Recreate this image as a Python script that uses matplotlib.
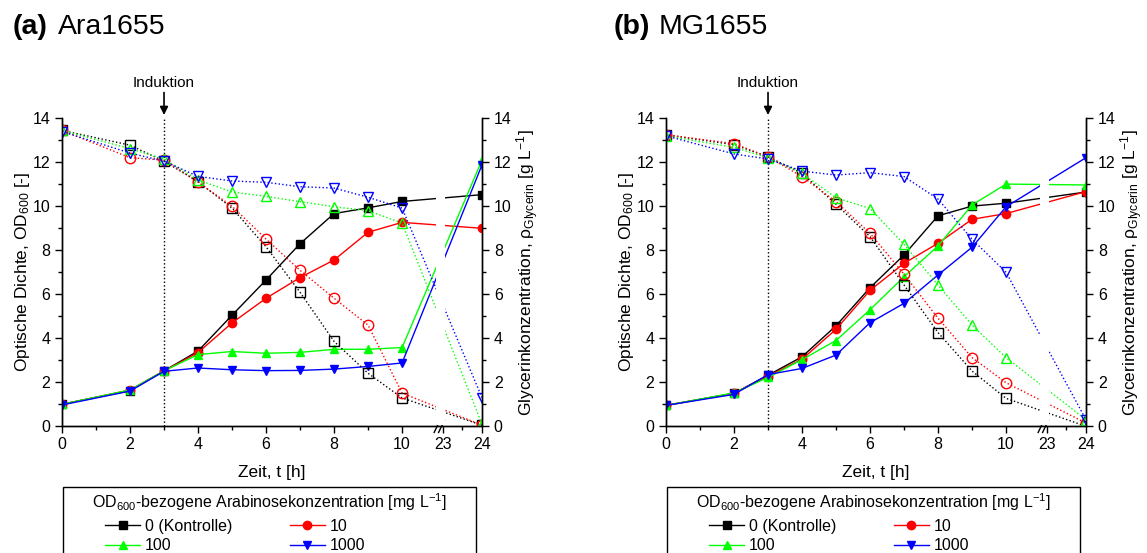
import numpy as np
import matplotlib
matplotlib.use("Agg")
import matplotlib.pyplot as plt
from matplotlib.patches import Rectangle

plt.rcParams['font.family'] = 'Liberation Sans'
plt.rcParams['mathtext.fontset'] = 'custom'
plt.rcParams['mathtext.rm'] = 'Liberation Sans'
plt.rcParams['mathtext.it'] = 'Liberation Sans:italic'
plt.rcParams['mathtext.bf'] = 'Liberation Sans:bold'

# sampling times [h]
times = [0, 2, 3, 4, 5, 6, 7, 8, 9, 10, 24]
conc_labels = ['0 (Kontrolle)', '10', '100', '1000']
colors = ['black', '#ff0000', '#00ff00', '#0000ff']
markers = ['s', 'o', '^', 'v']

# (a) Ara1655 - OD600
ara_od_0 = [1.0, 1.62, 2.52, 3.42, 5.05, 6.65, 8.3, 9.67, 9.93, 10.22, 10.53]
ara_od_10 = [1.0, 1.65, 2.52, 3.35, 4.7, 5.82, 6.76, 7.56, 8.82, 9.27, 9.0]
ara_od_100 = [1.0, 1.65, 2.52, 3.26, 3.4, 3.32, 3.36, 3.5, 3.5, 3.58, 12.1]
ara_od_1000 = [0.97, 1.6, 2.5, 2.65, 2.57, 2.53, 2.54, 2.6, 2.72, 2.88, 11.88]
# (a) Ara1655 - Glycerin
ara_gly_0 = [13.45, 12.78, 12.05, 11.12, 9.92, 8.16, 6.09, 3.86, 2.41, 1.29, 0.05]
ara_gly_10 = [13.45, 12.21, 12.1, 11.1, 10.0, 8.51, 7.09, 5.82, 4.6, 1.51, 0.05]
ara_gly_100 = [13.45, 12.62, 12.15, 11.2, 10.65, 10.45, 10.21, 9.98, 9.8, 9.24, 0.1]
ara_gly_1000 = [13.4, 12.42, 12.05, 11.36, 11.15, 11.09, 10.89, 10.83, 10.41, 9.92, 1.3]

# (b) MG1655 - OD600
mg_od_0 = [0.95, 1.5, 2.32, 3.16, 4.57, 6.3, 7.79, 9.57, 10.01, 10.14, 10.65]
mg_od_10 = [0.95, 1.5, 2.28, 3.05, 4.41, 6.18, 7.41, 8.32, 9.41, 9.67, 10.67]
mg_od_100 = [0.95, 1.52, 2.22, 3.03, 3.9, 5.3, 6.8, 8.2, 10.06, 11.01, 10.97]
mg_od_1000 = [0.95, 1.45, 2.35, 2.63, 3.24, 4.71, 5.59, 6.88, 8.14, 9.98, 12.21]
# (b) MG1655 - Glycerin
mg_gly_0 = [13.25, 12.8, 12.25, 11.5, 10.09, 8.62, 6.42, 4.26, 2.51, 1.27, 0.0]
mg_gly_10 = [13.25, 12.85, 12.25, 11.35, 10.21, 8.77, 6.91, 4.91, 3.12, 1.98, 0.15]
mg_gly_100 = [13.2, 12.68, 12.2, 11.5, 10.39, 9.9, 8.27, 6.42, 4.6, 3.12, 0.3]
mg_gly_1000 = [13.2, 12.38, 12.15, 11.6, 11.42, 11.53, 11.35, 10.33, 8.5, 7.0, 0.3]

# broken time axis: 10.6 h -> 23 h is squeezed
t_knots = [0, 10.6, 23, 24]
u_knots = [0, 10.6, 11.2, 12.35]


def fwd(t):
    return np.interp(t, t_knots, u_knots)


def inv(u):
    return np.interp(u, u_knots, t_knots)


fig = plt.figure(figsize=(11.47, 5.53), dpi=100)
W, H = 1147, 553


def draw_panel(x_px, title_x, title_bold, title_rest, od_sets, gly_sets):
    ax = fig.add_axes([x_px / W, (H - 426.3) / H, 420 / W, 308 / H])
    ax2 = ax.twinx()
    ax.set_xscale('function', functions=(fwd, inv))
    ax.set_xlim(0, 24)
    ax.set_ylim(0, 14)
    ax2.set_ylim(0, 14)

    for i in range(4):
        ax.plot(times, od_sets[i], color=colors[i], marker=markers[i], lw=1,
                ms=6, mfc=colors[i], mec=colors[i], label=conc_labels[i], zorder=3)
        ax2.plot(times, gly_sets[i], color=colors[i], marker=markers[i], lw=1,
                 ls=':', ms=7.5, mfc='none', mec=colors[i], mew=1)

    # white gap across the axis break
    ax2.axvspan(inv(11.0), inv(11.25), ymin=0.003, ymax=1, color='white', zorder=5, lw=0)
    # break marks
    for f in (11.03 / 12.35, 11.16 / 12.35):
        ax.plot([f - 0.007, f + 0.007], [-0.02, 0.02], color='black', lw=1,
                transform=ax.transAxes, clip_on=False, zorder=6)

    # induction
    ax.axvline(3, color='black', ls=':', lw=1, zorder=1)
    ax.annotate('Induktion', xy=(3, 14.15), xytext=(3, 15.3), ha='center', va='bottom',
                fontsize=11, annotation_clip=False,
                arrowprops=dict(arrowstyle='-|>', color='black', lw=1.2, mutation_scale=12,
                                shrinkA=0, shrinkB=0))

    ax.set_xticks([0, 2, 4, 6, 8, 10, 23, 24])
    ax.set_xticklabels(['0', '2', '4', '6', '8', '10', '23', '24'])
    ax.set_xticks([1, 3, 5, 7, 9, 23.5], minor=True)
    for a in (ax, ax2):
        a.set_yticks(np.arange(0, 15, 2))
        a.set_yticks(np.arange(1, 14, 2), minor=True)
        a.tick_params(which='major', direction='out', length=5, width=1, labelsize=11.5)
        a.tick_params(which='minor', direction='out', length=3, width=1)
        a.spines['top'].set_visible(False)
        for s in a.spines.values():
            s.set_linewidth(1)
    ax.tick_params(axis='x', pad=3)

    ax.set_xlabel('Zeit, t [h]', fontsize=12.5, labelpad=9)
    ax.set_ylabel('Optische Dichte, OD$_{600}$ [-]', fontsize=12.5, labelpad=0)
    ax2.set_ylabel('Glycerinkonzentration, ρ$_{\\mathrm{Glycerin}}$ [g L$^{-1}$]',
                   fontsize=12.5, labelpad=2)

    fig.text(title_x / W, 1 - 34 / H, title_bold, fontsize=20.5, fontweight='bold',
             ha='left', va='baseline')
    fig.text((title_x + 45) / W, 1 - 34 / H, title_rest, fontsize=20.5,
             ha='left', va='baseline')

    # legend frame and title
    fig.patches.append(Rectangle(((x_px + 1) / W, -0.1), 413 / W, (H - 487) / H + 0.1,
                                 transform=fig.transFigure, fill=False,
                                 edgecolor='black', lw=1))
    fig.text((x_px + 1 + 206.5) / W, 1 - 502 / H,
             'OD$_{600}$-bezogene Arabinosekonzentration [mg L$^{-1}$]',
             fontsize=11.5, ha='center', va='center')
    lines = ax.get_lines()
    # column-wise filling: 0, 100 | 10, 1000
    fig.legend(handles=[lines[0], lines[2], lines[1], lines[3]], loc='upper left',
               bbox_to_anchor=((x_px + 43) / W, 1 - 519 / H), ncol=2, frameon=False,
               fontsize=11.5, handlelength=2.2, handletextpad=0.3, columnspacing=3.6,
               labelspacing=0.28, borderpad=0, borderaxespad=0)
    return ax


draw_panel(62, 13, '(a)', 'Ara1655',
           [ara_od_0, ara_od_10, ara_od_100, ara_od_1000],
           [ara_gly_0, ara_gly_10, ara_gly_100, ara_gly_1000])
draw_panel(666, 614, '(b)', 'MG1655',
           [mg_od_0, mg_od_10, mg_od_100, mg_od_1000],
           [mg_gly_0, mg_gly_10, mg_gly_100, mg_gly_1000])

fig.savefig('out.png', dpi=100)
